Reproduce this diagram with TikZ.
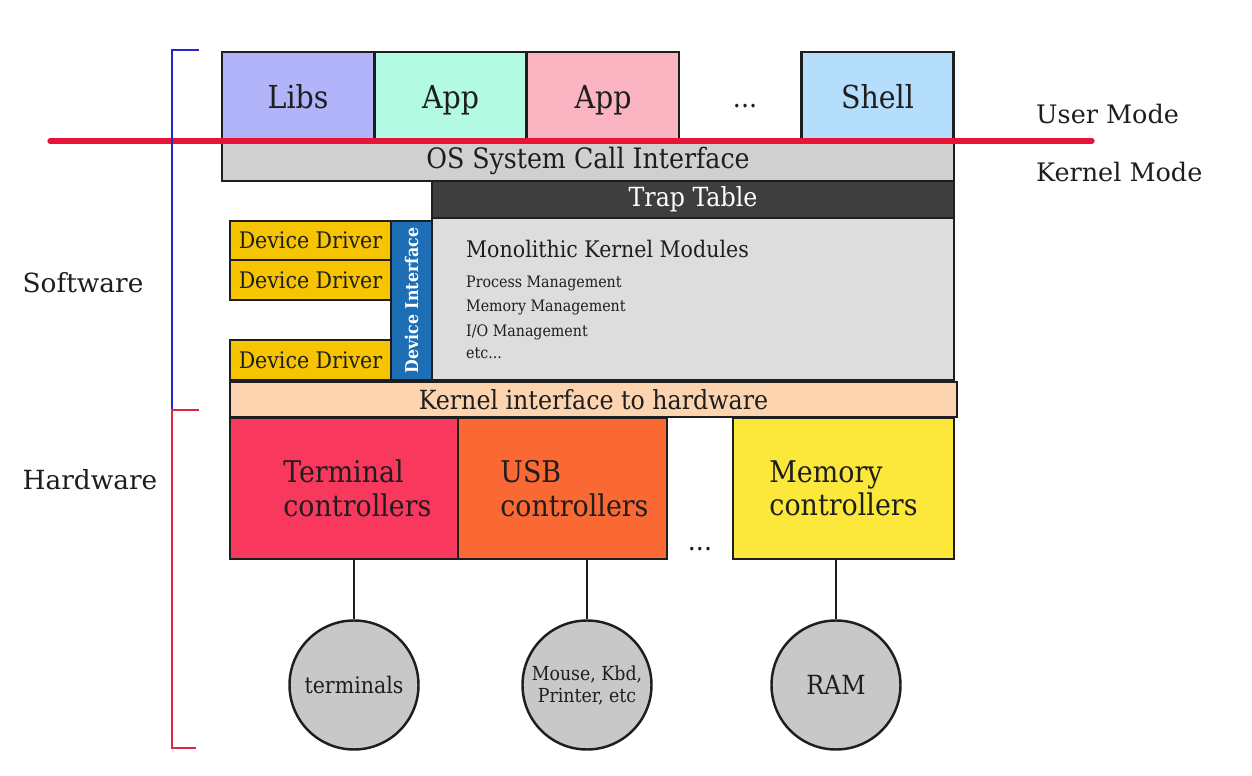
\documentclass[tikz,border=0pt]{standalone}
\usepackage{fontspec}
\setmainfont{DejaVu Serif Condensed}
\newfontfamily\widefont{DejaVu Serif}
\usepackage{xcolor}
\usetikzlibrary{shapes.geometric}
\definecolor{libsblue}{RGB}{178, 180, 250}
\definecolor{appgreen}{RGB}{178, 250, 226}
\definecolor{apppink}{RGB}{250, 180, 194}
\definecolor{shellblue}{RGB}{180, 222, 252}
\definecolor{callgray}{RGB}{208, 208, 208}
\definecolor{trapdark}{RGB}{62, 62, 62}
\definecolor{kernelgray}{RGB}{221, 221, 221}
\definecolor{ifaceblue}{RGB}{30, 110, 182}
\definecolor{driveryellow}{RGB}{246, 196, 0}
\definecolor{hwpeach}{RGB}{252, 212, 176}
\definecolor{termred}{RGB}{248, 56, 92}
\definecolor{usborange}{RGB}{250, 104, 52}
\definecolor{memyellow}{RGB}{252, 232, 58}
\definecolor{devgray}{RGB}{200, 200, 200}
\definecolor{modered}{RGB}{232, 20, 56}
\definecolor{swblue}{RGB}{40, 40, 200}
\definecolor{hwred}{RGB}{220, 40, 64}
\definecolor{inkblack}{RGB}{30, 30, 30}

\begin{document}
\begin{tikzpicture}[x=0.02cm,y=-0.02cm,
    layer/.style={draw=inkblack,line width=1.4pt,inner sep=0pt,text=inkblack},
    size/.style 2 args={minimum width=#1*0.02cm,minimum height=#2*0.02cm},
    userprog/.style={layer,size={152}{89},font=\fontsize{18}{20}\selectfont,text height=17pt,text depth=3pt},
    device/.style={ellipse,draw=inkblack,line width=1.4pt,fill=devgray,inner sep=0pt,minimum size=129*0.02cm}]
    \useasboundingbox (0,0) rectangle (1252,776);

    % User programs
    \node[userprog,fill=libsblue] (libs) at (298,96.5) {Libs};
    \node[userprog,fill=appgreen] (appa) at (450.5,96.5) {App};
    \node[userprog,fill=apppink] (appb) at (603,96.5) {App};
    \node[font=\fontsize{16}{18}\selectfont,text=inkblack] (udots) at (745,106) {...};
    \node[userprog,fill=shellblue] (shell) at (877.5,96.5) {Shell};

    % Kernel
    \node[layer,size={732}{40},fill=callgray,font=\fontsize{16}{18}\selectfont] (syscall) at (588,161) {OS System Call Interface};
    \node[layer,size={522}{37},fill=trapdark,text=white,font=\fontsize{15}{17}\selectfont] (trap) at (693,199.5) {Trap Table};
    \node[layer,size={522}{162},fill=kernelgray] (modules) at (693,299) {};
    \node[anchor=west,font=\fontsize{13}{15}\selectfont,text=inkblack] (modtitle) at (460,249) {Monolithic Kernel Modules};
    \node[anchor=west,font=\fontsize{9}{11}\selectfont,text=inkblack] (procm) at (460,283) {Process Management};
    \node[anchor=west,font=\fontsize{9}{11}\selectfont,text=inkblack] (memm) at (460,307) {Memory Management};
    \node[anchor=west,font=\fontsize{9}{11}\selectfont,text=inkblack] (iom) at (460,332) {I/O Management};
    \node[anchor=west,font=\fontsize{9}{11}\selectfont,text=inkblack] (etcm) at (460,353) {etc...};

    % Drivers
    \node[layer,size={41}{159},fill=ifaceblue] (iface) at (411.5,300.5) {};
    \node[rotate=90,text=white,font=\bfseries\fontsize{10}{12}\selectfont] (ifacetxt) at (iface.center) {Device Interface};
    \node[layer,size={161}{39},fill=driveryellow,font=\fontsize{13}{15}\selectfont] (drva) at (310.5,240.5) {Device Driver};
    \node[layer,size={161}{40},fill=driveryellow,font=\fontsize{13}{15}\selectfont] (drvb) at (310.5,280) {Device Driver};
    \node[layer,size={161}{40},fill=driveryellow,font=\fontsize{13}{15}\selectfont] (drvc) at (310.5,360) {Device Driver};

    \node[layer,size={727}{35},fill=hwpeach,font=\fontsize{15}{17}\selectfont] (hwiface) at (593.5,399.5) {Kernel interface to hardware};

    % Controllers
    \node[layer,size={228}{141},fill=termred,align=left,font=\fontsize{17}{19}\selectfont] (termctl) at (344,488.5) {\hspace*{0.9em}Terminal\\\hspace*{0.9em}controllers};
    \node[layer,size={209}{141},fill=usborange,align=left,font=\fontsize{17}{19}\selectfont] (usbctl) at (562.5,488.5) {\hspace*{0.8em}USB\\\hspace*{0.8em}controllers};
    \node[font=\fontsize{16}{18}\selectfont,text=inkblack] (hdots) at (700,549) {...};
    \node[layer,size={221}{141},fill=memyellow,align=left,font=\fontsize{17}{19}\selectfont] (memctl) at (843.5,488.5) {Memory\\controllers};

    % Devices
    \node[device] (terms) at (354,685) {};
    \node[device] (periph) at (587,685) {};
    \node[device] (ram) at (836,685) {};
    \node[font=\fontsize{13}{15}\selectfont,text=inkblack] (termstxt) at (terms.center) {terminals};
    \node[align=center,font=\fontsize{11}{12.5}\selectfont,text=inkblack] (periphtxt) at (periph.center) {Mouse, Kbd,\\Printer, etc};
    \node[font=\fontsize{15}{17}\selectfont,text=inkblack] (ramtxt) at (ram.center) {RAM};
    \draw[inkblack,line width=1.4pt] (terms.north) -- (terms.north |- termctl.south);
    \draw[inkblack,line width=1.4pt] (periph.north) -- (periph.north |- usbctl.south);
    \draw[inkblack,line width=1.4pt] (ram.north) -- (ram.north |- memctl.south);

    % Mode line
    \draw[modered,line width=3pt,line cap=round] (50,141) -- (1092,141);
    \node[anchor=west,font=\widefont\fontsize{14.5}{17}\selectfont,text=inkblack] (usermode) at (1030,114) {User Mode};
    \node[anchor=west,font=\widefont\fontsize{14.5}{17}\selectfont,text=inkblack] (kernmode) at (1030,172) {Kernel Mode};

    % Brackets
    \draw[swblue,line width=1.5pt] (199,50) -- (172,50) -- (172,410);
    \draw[hwred,line width=1.5pt] (199,410) -- (172,410) -- (172,748) -- (196,748);
    \node[font=\widefont\fontsize{15}{17}\selectfont,text=inkblack] (swlabel) at (83,283) {Software};
    \node[font=\widefont\fontsize{15}{17}\selectfont,text=inkblack] (hwlabel) at (90,480) {Hardware};
\end{tikzpicture}
\end{document}
